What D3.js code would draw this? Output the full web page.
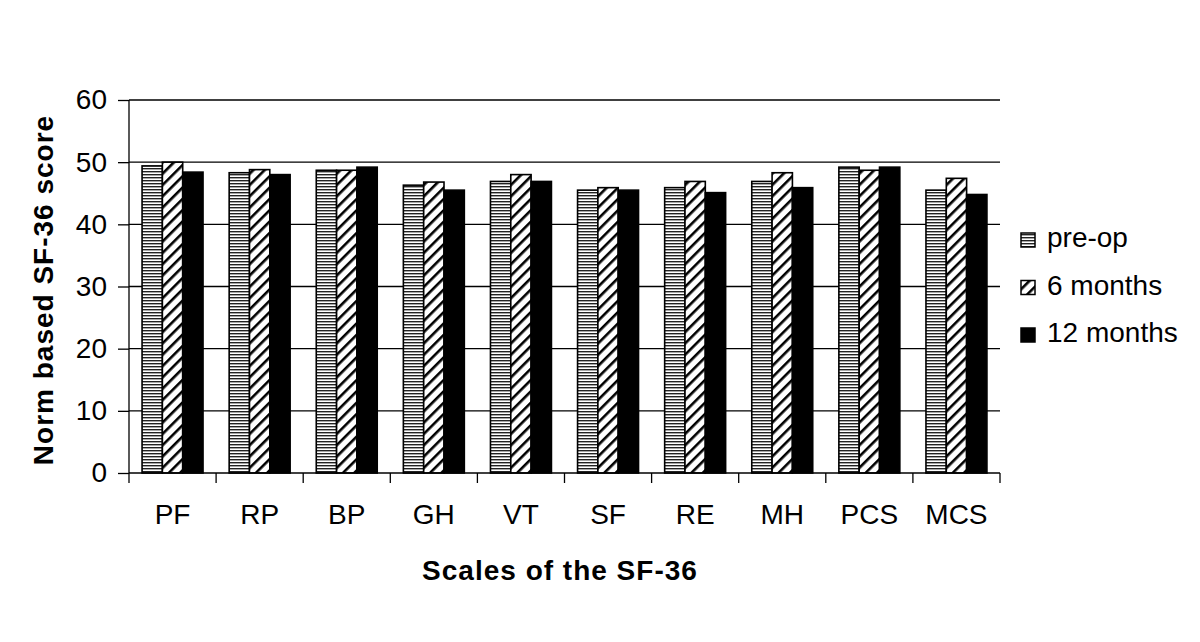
<html>
<head>
<title>SF-36 scores</title>
<script src="https://d3js.org/d3.v7.min.js"></script>
<style>
  body { margin: 0; background: #fff; }
  text { font-family: Arial, "Liberation Sans", sans-serif; fill: #000; }
</style>
</head>
<body>
<svg width="1200" height="642"></svg>
<script>
var categories = ["PF", "RP", "BP", "GH", "VT", "SF", "RE", "MH", "PCS", "MCS"];
var seriesNames = ["pre-op", "6 months", "12 months"];
var preOp    = [49.4, 48.3, 48.7, 46.3, 46.9, 45.5, 45.9, 46.9, 49.2, 45.5];
var sixMonth = [50.0, 48.8, 48.7, 46.8, 48.0, 45.9, 46.9, 48.3, 48.7, 47.4];
var twelveMonth = [48.4, 48.0, 49.2, 45.5, 46.9, 45.5, 45.1, 45.9, 49.2, 44.8];
var yTicks = [0, 10, 20, 30, 40, 50, 60];

var series = [preOp, sixMonth, twelveMonth];
var fills = ["url(#hstripe)", "url(#diag)", "#000"];

var svg = d3.select("svg");
var plotLeft = 129, plotRight = 1000, plotTop = 100, plotBottom = 473;

var defs = svg.append("defs");
var hp = defs.append("pattern").attr("id", "hstripe").attr("patternUnits", "userSpaceOnUse")
  .attr("width", 4).attr("height", 3);
hp.append("rect").attr("width", 4).attr("height", 3).attr("fill", "#fff");
hp.append("rect").attr("width", 4).attr("height", 1.4).attr("fill", "#222");

var dp = defs.append("pattern").attr("id", "diag").attr("patternUnits", "userSpaceOnUse")
  .attr("width", 8).attr("height", 8).attr("patternTransform", "rotate(45)");
dp.append("rect").attr("width", 8).attr("height", 8).attr("fill", "#fff");
dp.append("rect").attr("width", 2.6).attr("height", 8).attr("fill", "#000");

var x = d3.scaleBand().domain(categories).range([plotLeft, plotRight]).paddingInner(0.3).paddingOuter(0.15);
var xs = d3.scaleBand().domain(d3.range(3)).range([0, x.bandwidth()]);
var y = d3.scaleLinear().domain([0, 60]).range([plotBottom, plotTop]);

// gridlines
svg.append("g").selectAll("line").data(yTicks.filter(function(d) { return d > 0; }))
  .enter().append("line")
  .attr("x1", plotLeft).attr("x2", plotRight)
  .attr("y1", function(d) { return y(d); }).attr("y2", function(d) { return y(d); })
  .attr("stroke", "#000").attr("stroke-width", 1.3);

// y axis
var yAxis = svg.append("g").attr("transform", "translate(" + plotLeft + ",0)")
  .call(d3.axisLeft(y).tickValues(yTicks).tickSize(11).tickPadding(11));
yAxis.selectAll("text").style("font-size", "28px");
yAxis.selectAll("line, path").attr("stroke", "#000").attr("stroke-width", 1.3);
yAxis.select(".domain").attr("d", "M0," + plotTop + "V" + plotBottom);

// bars
var groups = svg.append("g").selectAll("g").data(categories).enter().append("g")
  .attr("transform", function(d) { return "translate(" + x(d) + ",0)"; });
groups.selectAll("rect").data(function(d, i) { return series.map(function(s, k) { return { k: k, v: s[i] }; }); })
  .enter().append("rect")
  .attr("x", function(d) { return xs(d.k); })
  .attr("width", xs.bandwidth())
  .attr("y", function(d) { return y(d.v); })
  .attr("height", function(d) { return y(0) - y(d.v); })
  .attr("fill", function(d) { return fills[d.k]; })
  .attr("stroke", "#000").attr("stroke-width", 1.6);

// x axis
var step = x.step();
var xAxis = svg.append("g").attr("transform", "translate(0," + plotBottom + ")");
xAxis.append("line").attr("x1", plotLeft).attr("x2", plotRight).attr("stroke", "#000").attr("stroke-width", 1.3);
xAxis.selectAll("line.tk").data(d3.range(categories.length + 1)).enter().append("line")
  .attr("class", "tk")
  .attr("x1", function(i) { return plotLeft + i * step; }).attr("x2", function(i) { return plotLeft + i * step; })
  .attr("y1", 0).attr("y2", 10).attr("stroke", "#000").attr("stroke-width", 1.3);
xAxis.selectAll("text").data(categories).enter().append("text")
  .attr("x", function(d) { return x(d) + x.bandwidth() / 2; })
  .attr("y", 51).attr("text-anchor", "middle").style("font-size", "28px")
  .text(function(d) { return d; });

// axis titles
svg.append("text").attr("transform", "translate(53,290) rotate(-90)")
  .attr("text-anchor", "middle").style("font-size", "28px").style("font-weight", "bold")
  .style("letter-spacing", "1px")
  .text("Norm based SF-36 score");
svg.append("text").attr("x", 560).attr("y", 580).attr("text-anchor", "middle")
  .style("font-size", "28px").style("font-weight", "bold").style("letter-spacing", "1px")
  .text("Scales of the SF-36");

// legend
var legend = svg.append("g").selectAll("g").data(seriesNames).enter().append("g")
  .attr("transform", function(d, i) { return "translate(1021," + (240 + i * 47.5) + ")"; });
legend.append("rect").attr("x", 0).attr("y", -7).attr("width", 14).attr("height", 14)
  .attr("fill", function(d, i) { return fills[i]; }).attr("stroke", "#000").attr("stroke-width", 1.5);
legend.append("text").attr("x", 26).attr("y", 7).style("font-size", "28px")
  .text(function(d) { return d; });
</script>
</body>
</html>
